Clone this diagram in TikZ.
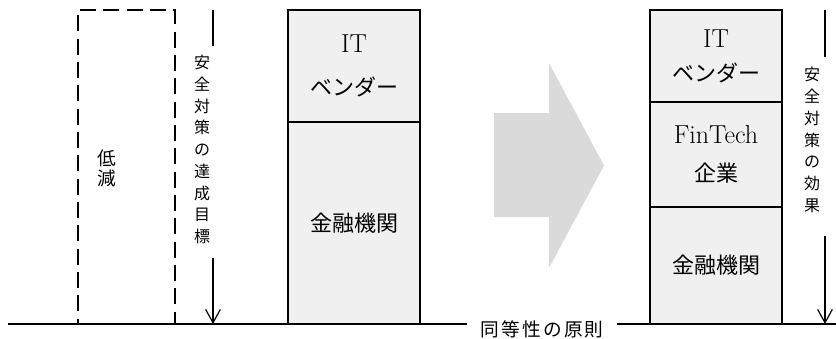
\documentclass[tikz,border=0pt]{standalone}
\usepackage{fontspec}
\newfontfamily\jp{Noto Sans CJK JP}
\usetikzlibrary{arrows.meta}
\definecolor{boxgray}{HTML}{F0F0F0}
\definecolor{arrowgray}{HTML}{DADADA}
\newcommand\latin[1]{{\fontsize{19.5}{20}\selectfont #1}}
\begin{document}
\begin{tikzpicture}[x=0.75pt,y=-0.75pt,
  stackbox/.style={draw, line width=1.4pt, fill=boxgray, minimum width=99pt, inner sep=0pt, align=center, font=\fontsize{16.5}{20}\selectfont},
  vtext/.style={inner sep=0pt, align=center, font=\fontsize{12}{16.3}\selectfont\jp},
  dimline/.style={line width=0.9pt},
  dimarrow/.style={line width=0.9pt, -{Straight Barb[length=10pt, width=11pt, line width=0.9pt]}}]
\useasboundingbox (0,0) rectangle (836,339);
% target, left
\node[draw, line width=1.4pt, dash pattern=on 12pt off 5.5pt, minimum width=72.75pt, minimum height=235.5pt, inner sep=0pt] (cut) at (126.5,167) {};
\node[inner sep=0pt, align=center, font=\fontsize{14}{15}\selectfont\jp] (cutlabel) at (107,168) {低\\減};
\coordinate (ltop) at (213,10);
\coordinate (lbot) at (213,324);
\node[vtext] (ltext) at (202,149.5) {安\\全\\対\\策\\の\\達\\成\\目\\標};
\draw[dimline] (ltop) -- ([yshift=6.75pt]ltext.north -| ltop);
\draw[dimarrow] ([yshift=-10.5pt]ltext.south -| ltop) -- (lbot);
\node[stackbox, minimum height=84pt] (lvendor) at (354,66) {\latin{IT}\\[12pt]{\jp ベンダー}};
\node[stackbox, minimum height=151.5pt] (lbank) at (354,223) {\jp 金融機関};
% big arrow
\fill[arrowgray] (494,113) -- (549,113) -- (549,63) -- (604,165.5) -- (549,268) -- (549,217) -- (494,217) -- cycle;
% result, right
\node[stackbox, minimum height=69pt] (rvendor) at (716,56) {\latin{IT}\\[5.5pt]{\jp ベンダー}};
\node[stackbox, minimum height=78.75pt] (rfintech) at (716,154.5) {\latin{FinTech}\\[8.5pt]{\jp 企業}};
\node[stackbox, minimum height=87.75pt] (rbank) at (716,265.5) {\jp 金融機関};
\coordinate (rtop) at (825,10);
\coordinate (rbot) at (825,324);
\node[vtext] (rtext) at (812,140) {安\\全\\対\\策\\の\\効\\果};
\draw[dimline] (rtop) -- ([yshift=7.5pt]rtext.north -| rtop);
\draw[dimarrow] ([yshift=-17pt]rtext.south -| rtop) -- (rbot);
% ground
\coordinate (gl) at (8,324);
\coordinate (gr) at (836,324);
\node[inner ysep=0pt, inner xsep=10pt, font=\fontsize{14}{16}\selectfont\jp\addfontfeatures{LetterSpace=12}] (rule) at (542,329) {同等性の原則};
\draw[line width=1.4pt] (gl) -- (gl -| rule.west);
\draw[line width=1.4pt] (gr -| rule.east) -- (gr);
\end{tikzpicture}
\end{document}
